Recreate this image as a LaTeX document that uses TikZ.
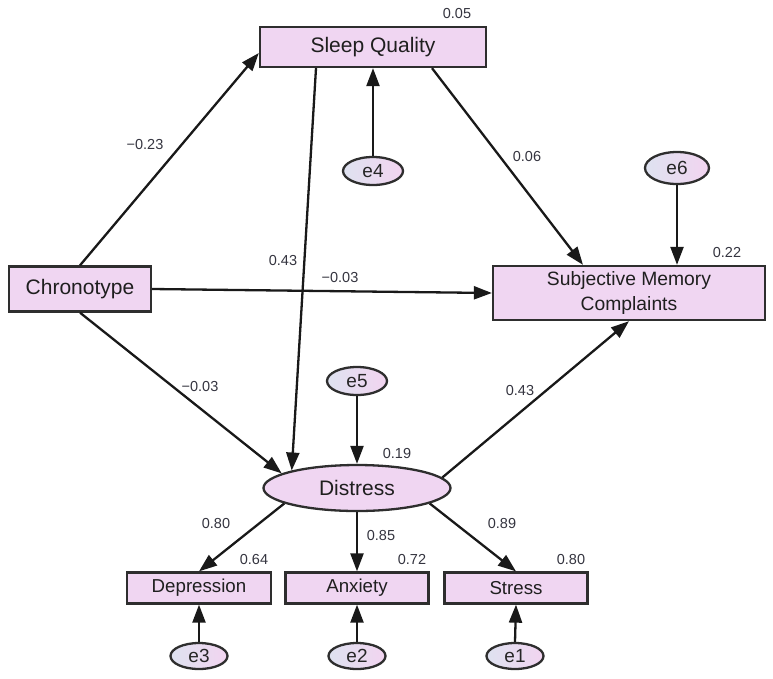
\documentclass[tikz,border=0pt]{standalone}
\usepackage{fontspec}
\setmainfont{Liberation Sans}
\usetikzlibrary{arrows.meta,shapes.geometric,calc}
\definecolor{boxfill}{HTML}{F0D6F2}
\definecolor{errL}{HTML}{DEE2F0}
\definecolor{errR}{HTML}{F2D4F0}
\definecolor{bordc}{HTML}{2E2E2E}
\definecolor{numc}{HTML}{34343F}
\tikzset{
  obs/.style={draw=bordc,line width=2.3pt,fill=boxfill,rectangle,inner sep=0pt,text=black!88},
  lat/.style={draw=bordc,line width=2.3pt,fill=boxfill,ellipse,inner sep=0pt,text=black!88},
  err/.style={draw=bordc,line width=2.3pt,ellipse,inner sep=0pt,left color=errL,right color=errR,
    minimum width=60pt,minimum height=28pt,font=\fontsize{19}{21}\selectfont,text=black!85},
  arr/.style={line width=2.3pt,draw=black!90,-{Triangle[length=18pt,width=13pt]}},
  num/.style={font=\fontsize{14.5}{16}\selectfont,text=numc,inner sep=0pt}
}
\begin{document}
\begin{tikzpicture}[x=1pt,y=-1pt]
\useasboundingbox (0,0) rectangle (773,678);
% nodes
\node[obs,minimum width=226pt,minimum height=40pt,font=\fontsize{21}{23}\selectfont] (sq) at (373,47) {Sleep Quality};
\node[obs,minimum width=142pt,minimum height=45pt,font=\fontsize{21}{23}\selectfont] (chrono) at (80,289) {Chronotype};
\node[obs,minimum width=272pt,minimum height=54pt,font=\fontsize{19.3}{25}\selectfont,align=center] (smc) at (629,293) {Subjective Memory\\Complaints};
\node[lat,minimum width=187pt,minimum height=46pt,font=\fontsize{21}{23}\selectfont] (dis) at (357,488) {Distress};
\node[obs,minimum width=144pt,minimum height=31pt,font=\fontsize{18.7}{21}\selectfont] (dep) at (199,588) {Depression};
\node[obs,minimum width=143pt,minimum height=31pt,font=\fontsize{18.7}{21}\selectfont] (anx) at (357,588) {Anxiety};
\node[obs,minimum width=143pt,minimum height=31pt,font=\fontsize{18.7}{21}\selectfont] (str) at (516,588) {Stress};
\node[err] (e4) at (373,171) {e4};
\node[err,minimum width=64pt,minimum height=32pt] (e6) at (677,168) {e6};
\node[err] (e5) at (357,381) {e5};
\node[err,minimum width=57pt,minimum height=26pt] (e3) at (199,656) {e3};
\node[err,minimum width=57pt,minimum height=26pt] (e2) at (357,656) {e2};
\node[err,minimum width=57pt,minimum height=26pt] (e1) at (515,656) {e1};
% connectors
\draw[arr] (chrono.north) -- ([yshift=-6pt]sq.west);
\draw[arr] (chrono.east) -- (smc.west);
\draw[arr] (chrono.south) -- (dis.169);
\draw[arr] ([xshift=-57pt]sq.south) -- (dis.165);
\draw[arr] ([xshift=59pt]sq.south) -- ([xshift=-46pt]smc.north);
\draw[arr] (e4.north) -- (sq.south);
\draw[arr] (e6.south) -- (e6.south |- smc.north);
\draw[arr] (e5.south) -- (dis.north);
\draw[arr] (dis.7) -- (smc.south);
\draw[arr] (dis.192) -- (dep.north);
\draw[arr] (dis.south) -- (anx.north);
\draw[arr] (dis.348) -- (str.north);
\draw[arr] (e3.north) -- (dep.south);
\draw[arr] (e2.north) -- (anx.south);
\draw[arr] (e1.north) -- (str.south);
% labels
\node[num] (n1) at (457,14) {0.05};
\node[num] (n2) at (145,145) {−0.23};
\node[num] (n3) at (527,157) {0.06};
\node[num] (n4) at (727,253) {0.22};
\node[num] (n5) at (283,261) {0.43};
\node[num] (n6) at (340,278) {−0.03};
\node[num] (n7) at (200,386) {−0.03};
\node[num] (n8) at (520,390) {0.43};
\node[num] (n9) at (397,453) {0.19};
\node[num] (n10) at (216,523) {0.80};
\node[num] (n11) at (381,535) {0.85};
\node[num] (n12) at (502,523) {0.89};
\node[num] (n13) at (254,559) {0.64};
\node[num] (n14) at (412,559) {0.72};
\node[num] (n15) at (571,559) {0.80};
\end{tikzpicture}
\end{document}
